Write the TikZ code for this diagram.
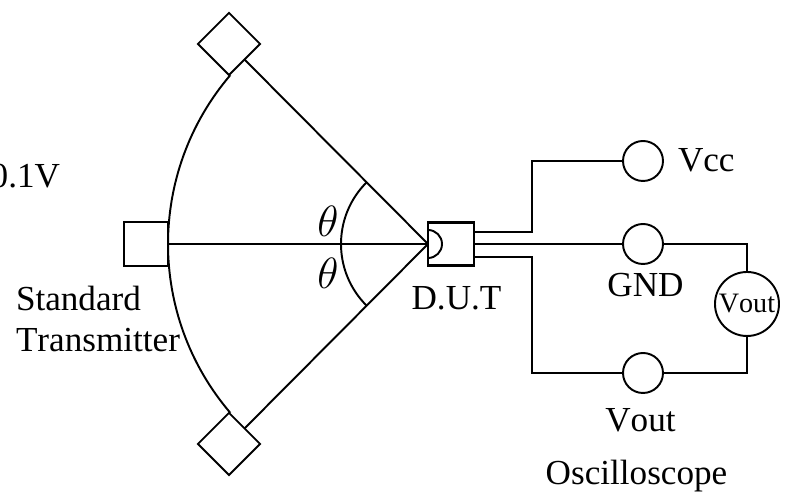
\documentclass[tikz,border=0pt]{standalone}
\usepackage{fontspec}
\setmainfont[Kerning=Off]{Liberation Serif}
\usetikzlibrary{calc}
\tikzset{
    wire/.style={line width=1.1pt, black},
    antenna/.style={draw, wire, rectangle, minimum size=0.88cm, inner sep=0pt, outer sep=0pt},
    port/.style={draw, wire, circle, minimum size=0.8cm, inner sep=0pt, outer sep=0pt},
    caption/.style={inner sep=0pt, outer sep=0pt, font=\fontsize{20}{23.2}\selectfont},
    angle label/.style={inner sep=0pt, outer sep=0pt, font=\fontsize{24.88}{26}\selectfont}
}

\begin{document}
\begin{tikzpicture}
    \useasboundingbox (0,0) rectangle (15.78,9.88);
    % Transmitter positions
    \node[antenna] (txleft) at (2.92,5) {};
    \node[antenna, rotate=45] (txtop) at (4.58,9) {};
    \node[antenna, rotate=-45] (txbottom) at (4.58,1) {};
    % Device under test
    \node[antenna, line width=1.4pt, minimum width=0.92cm, minimum height=0.86cm] (dut) at (9.02,5) {};
    \draw[wire] ($(dut.west)+(0,0.28)$) arc (90:-90:0.28);
    \coordinate (dutup) at ($(dut.east)+(0,0.24)$);
    \coordinate (dutdown) at ($(dut.east)+(0,-0.26)$);
    % Output terminals
    \node[port] (vcc) at (12.86,6.66) {};
    \node[port] (gnd) at (12.86,5) {};
    \node[port] (vout) at (12.86,2.42) {};
    \node[port, minimum size=1.28cm, font=\fontsize{16}{16}\selectfont] (meter) at (14.94,3.8) {Vout};
    % Rays from the transmitters
    \foreach \tx/\side in {txleft/east, txtop/south, txbottom/north} {
        \draw[wire] (\tx.\side) -- (dut.west);
    }
    \draw[wire] (dut.west) ++(139.5:5.2) arc (139.5:220.5:5.2);
    \draw[wire] (dut.west) ++(135:1.74) arc (135:225:1.74);
    % Wiring
    \draw[wire] (dutup) -- ++(1.16,0) |- (vcc.west);
    \draw[wire] (dut.east) -- (gnd.west);
    \draw[wire] (dutdown) -- ++(1.16,0) |- (vout.west);
    \draw[wire] (gnd.east) -| (meter.north);
    \draw[wire] (meter.south) |- (vout.east);
    % Labels
    \node[caption, anchor=base east] (level) at (1.2,6.12) {0.1V};
    \node[caption, anchor=north west, align=left] (txlabel) at (0.32,4.16) {Standard\\Transmitter};
    \node[angle label] (thetaup) at (6.56,5.46) {$\theta$};
    \node[angle label] (thetadown) at (6.56,4.42) {$\theta$};
    \node[caption, anchor=base] (dutlabel) at (9.13,3.68) {D.U.T};
    \node[caption, anchor=base west] (vcclabel) at (13.56,6.44) {Vcc};
    \node[caption, anchor=base] (gndlabel) at (12.91,3.94) {GND};
    \node[caption, anchor=base] (voutlabel) at (12.81,1.24) {Vout};
    \node[caption, anchor=base] (scopelabel) at (12.73,0.18) {Oscilloscope};
\end{tikzpicture}
\end{document}
